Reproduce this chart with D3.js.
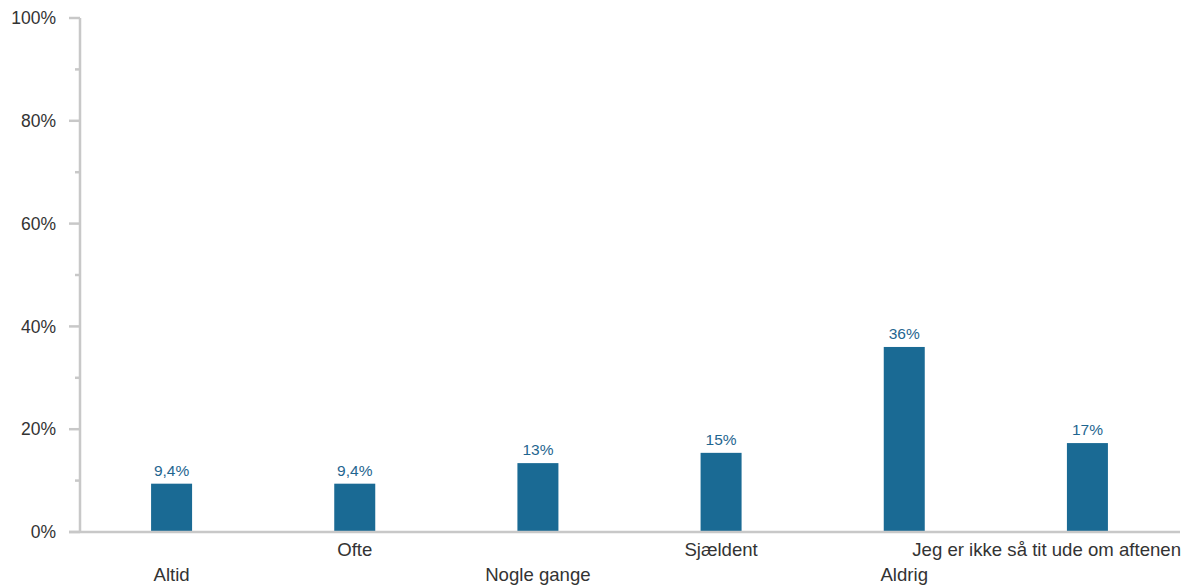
<!DOCTYPE html>
<html><head><meta charset="utf-8">
<script src="https://cdn.jsdelivr.net/npm/d3@7"></script>
<style>body{margin:0;background:#fff}svg{display:block}text{font-family:"Liberation Sans",Arial,sans-serif}</style>
</head><body><svg id="c" width="1190" height="586"></svg>
<script>
const categories = ["Altid","Ofte","Nogle gange","Sjældent","Aldrig","Jeg er ikke så tit ude om aftenen"];
const values = [9.4, 9.4, 13.4, 15.4, 36, 17.3];
const valueLabels = ["9,4%","9,4%","13%","15%","36%","17%"];
const majorTicks = [0,20,40,60,80,100];
const minorTicks = [10,30,50,70,90];

const svg = d3.select("#c");
const W = 1190;
const x = d3.scaleBand().domain(categories).range([80,1179]);
const y = d3.scaleLinear().domain([0,100]).range([532,18]);
const barW = 41;
const axisColor = "#c8c8c8";
const barColor = "#1a6a94";

// y axis
svg.append("line").attr("x1",80).attr("x2",80).attr("y1",y(100)).attr("y2",y(0))
  .attr("stroke",axisColor).attr("stroke-width",2.5);
svg.selectAll(".mj").data(majorTicks).join("line")
  .attr("x1",69).attr("x2",80).attr("y1",d=>y(d)).attr("y2",d=>y(d))
  .attr("stroke",axisColor).attr("stroke-width",2.5);
svg.selectAll(".mn").data(minorTicks).join("line")
  .attr("x1",75).attr("x2",80).attr("y1",d=>y(d)).attr("y2",d=>y(d))
  .attr("stroke",axisColor).attr("stroke-width",2.5);
svg.selectAll(".yl").data(majorTicks).join("text")
  .attr("x",56).attr("y",d=>y(d)).attr("dy","0.35em").attr("text-anchor","end")
  .attr("font-size",17.5).attr("fill","#333").text(d=>d+"%");

// bars
svg.selectAll(".bar").data(values).join("rect")
  .attr("x",(d,i)=>x(categories[i])+x.bandwidth()/2-barW/2)
  .attr("width",barW)
  .attr("y",d=>y(d)).attr("height",d=>y(0)-y(d))
  .attr("fill",barColor);

// x axis line
svg.append("line").attr("x1",69).attr("x2",1180).attr("y1",y(0)).attr("y2",y(0))
  .attr("stroke",axisColor).attr("stroke-width",2.5);

// value labels
svg.selectAll(".vl").data(values).join("text")
  .attr("x",(d,i)=>x(categories[i])+x.bandwidth()/2)
  .attr("y",d=>y(d)-8).attr("text-anchor","middle")
  .attr("font-size",15.5).attr("fill","#1f6690").text((d,i)=>valueLabels[i]);

// category labels
svg.selectAll(".cl").data(categories).join("text")
  .attr("x",d=>x(d)+x.bandwidth()/2)
  .attr("y",(d,i)=>i%2===0?581:556).attr("text-anchor","middle")
  .attr("font-size",18.6).attr("fill","#333").text(d=>d)
  .each(function(){
    const b=this.getBBox();
    const maxR=1181;
    if(b.x+b.width>maxR){
      d3.select(this).attr("x",+d3.select(this).attr("x")-(b.x+b.width-maxR));
    }
  });
</script></body></html>
